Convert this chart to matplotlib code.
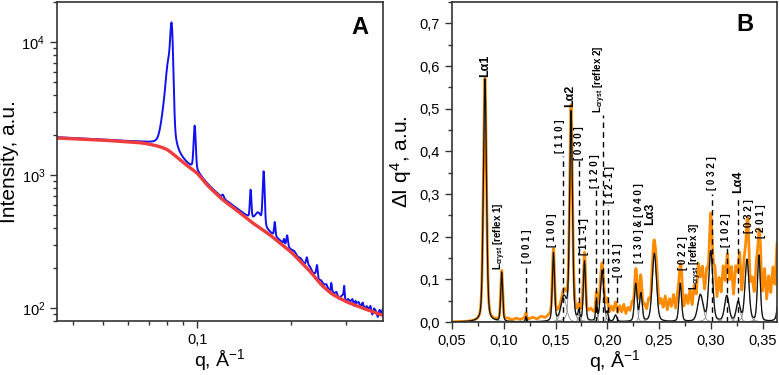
import numpy as np
import matplotlib
matplotlib.use("Agg")
import matplotlib.pyplot as plt
from matplotlib.ticker import MultipleLocator, FixedLocator, FuncFormatter, LogLocator, NullFormatter

plt.rcParams['font.family'] = ['Liberation Sans', 'DejaVu Sans']
plt.rcParams['mathtext.fontset'] = 'custom'
plt.rcParams['mathtext.rm'] = 'Liberation Sans'
plt.rcParams['mathtext.it'] = 'Liberation Sans:italic'
plt.rcParams['mathtext.bf'] = 'Liberation Sans:bold'

# ---- panel A : scattering curve (log-log) ----
# red background curve
bg_q = [0.0355, 0.050, 0.066, 0.070, 0.075, 0.080, 0.085, 0.090, 0.095, 0.100,
        0.105, 0.110, 0.120, 0.130, 0.150, 0.170, 0.200, 0.230, 0.250, 0.270,
        0.300, 0.340, 0.395]
bg_i = [1900, 1830, 1750, 1710, 1650, 1565, 1400, 1250, 1130, 1040,
        900, 800, 660, 575, 440, 360, 265, 190, 150, 128,
        112, 100, 88]

# blue peaks above background: position, added intensity, fwhm
pkA_q = [0.0828, 0.0808, 0.0785, 0.0982, 0.121, 0.1485, 0.157, 0.1635, 0.1775,
         0.190, 0.1945, 0.225, 0.2425, 0.2695, 0.2965, 0.322, 0.345]
pkA_h = [11000, 4500, 1200, 1250, 40, 300, 90, 650, 95, 25, 60, 30, 40, 18, 25, 8, 6]
pkA_w = [0.0019, 0.003, 0.004, 0.0016, 0.002, 0.0018, 0.008, 0.0025, 0.002,
         0.0015, 0.0025, 0.003, 0.003, 0.002, 0.002, 0.002, 0.002]

# relative wiggle of the blue curve around the background
ripA_q = [0.0355, 0.06, 0.1, 0.15] + [round(0.2 + 0.005 * k, 3) for k in range(40)]
ripA_v = [0.012, 0.006, 0.01, 0.04,
          0.04, 0.07, 0.03, 0.06, 0.02, 0.05, 0.08, 0.03, 0.06, 0.02,
          0.07, 0.04, 0.09, 0.01, 0.06, 0.03, 0.08, -0.02, 0.05, 0.10,
          0.00, 0.06, 0.03, 0.09, -0.03, 0.05, 0.08, 0.01, 0.10, -0.04,
          0.06, 0.02, 0.09, -0.05, 0.07, 0.03, -0.06, 0.08, 0.02, 0.12]

# ---- panel B : peak decomposition ----
# fitted components: position, height, fwhm
pkB_q = [0.0818, 0.098, 0.1215, 0.148, 0.158, 0.165, 0.1725, 0.178, 0.1895,
         0.195, 0.200, 0.208, 0.2275, 0.2325, 0.2455, 0.2705, 0.290, 0.300,
         0.3155, 0.3265, 0.335, 0.3465, 0.367]
pkB_h = [0.57, 0.115, 0.012, 0.16, 0.055, 0.49, 0.02, 0.14, 0.045,
         0.12, 0.02, 0.015, 0.088, 0.065, 0.16, 0.09, 0.062, 0.165,
         0.06, 0.045, 0.145, 0.155, 0.14]
pkB_w = [0.0035, 0.0022, 0.0015, 0.0025, 0.0065, 0.0032, 0.002, 0.0025, 0.0018,
         0.0038, 0.002, 0.003, 0.003, 0.003, 0.0048, 0.003, 0.006, 0.0045,
         0.005, 0.0045, 0.0045, 0.0032, 0.004]

# orange data minus fit (residual level), sampled along q
resB_q = ([0.05, 0.075] + [round(0.100 + 0.004 * k, 3) for k in range(26)]
          + [round(0.202 + 0.002 * k, 3) for k in range(82)])
resB_v = [0.0, 0.0,
          0.004, 0.007, 0.004, 0.008, 0.005, 0.009, 0.006, 0.010, 0.006, 0.012,
          0.008, 0.014, 0.009, 0.016, 0.010, 0.018, 0.011, 0.022, 0.013, 0.024,
          0.015, 0.028, 0.016, 0.026, 0.014, 0.030,
          0.018, 0.034, 0.020, 0.030, 0.016, 0.036, 0.022, 0.040, 0.018, 0.032,
          0.024, 0.042, 0.020, 0.038, 0.026, 0.046, 0.018, 0.036, 0.024, 0.044,
          0.020, 0.040, 0.028, 0.050, 0.022, 0.048, 0.030, 0.058, 0.026, 0.052,
          0.034, 0.062, 0.028, 0.056, 0.036, 0.066, 0.030, 0.060, 0.040, 0.072,
          0.036, 0.078, 0.044, 0.090, 0.040, 0.082, 0.050, 0.095, 0.046, 0.088,
          0.058, 0.105, 0.050, 0.098, 0.062, 0.112, 0.048, 0.100, 0.066, 0.118,
          0.055, 0.108, 0.070, 0.125, 0.052, 0.098, 0.064, 0.115, 0.050, 0.092,
          0.060, 0.110, 0.045, 0.095, 0.058, 0.120, 0.050, 0.105, 0.065, 0.125,
          0.080, 0.150]

# dashed index lines: position, top
dash_q = [0.1215, 0.157, 0.1725, 0.1895, 0.1955, 0.2005, 0.209, 0.301, 0.3155, 0.3265]
dash_top = [0.135, 0.39, 0.38, 0.31, 0.485, 0.275, 0.105, 0.30, 0.175, 0.295]

# rotated labels: position, bottom, text, font size
lab_q = [0.0818, 0.0965, 0.122, 0.1465, 0.154, 0.164, 0.173, 0.178, 0.188,
         0.193, 0.2025, 0.210, 0.231, 0.241, 0.273, 0.286, 0.301, 0.315,
         0.326, 0.337, 0.349]
lab_y = [0.575, 0.122, 0.138, 0.176, 0.396, 0.503, 0.38, 0.157, 0.314,
         0.49, 0.279, 0.105, 0.138, 0.227, 0.122, 0.075, 0.309, 0.176,
         0.302, 0.208, 0.197]
lab_txt = ['Lα1', r'L$_{\mathbf{cryst}}$ [reflex 1]', '[ 0 0 1 ]', '[ 1 0 0 ]',
           '[ 1 1 0 ]', 'Lα2', '[ 0 3 0 ]', '[ 1 1 -1 ]', '[ 1 2 0 ]',
           r'L$_{\mathbf{cryst}}$ [reflex 2]', '[ 1 2 -1 ]', '[ 0 3 1 ]',
           '[ 1 3 0 ] & [ 0 4 0 ]', 'Lα3', '[ 0 2 2 ]',
           r'L$_{\mathbf{cryst}}$ [reflex 3]', '[ 0 3 2 ]', '[ 1 0 2 ]', 'Lα4',
           '[ 0 3 2 ]', '[ 2 0 1 ]']
lab_size = [9, 7, 7, 7, 7, 9, 7, 7, 7, 7, 7, 7, 7, 9, 7, 7, 7, 7, 9, 7, 7]


def lorentz(x, x0, h, w):
    return h / (1 + ((x - x0) / (w / 2)) ** 2)


def pvoigt(x, x0, h, w, eta=0.3):
    g = np.exp(-4 * np.log(2) * ((x - x0) / w) ** 2)
    return h * (eta * lorentz(x, x0, 1, w) + (1 - eta) * g)


fig = plt.figure(figsize=(7.79, 3.75), dpi=100)
axA = fig.add_axes([57 / 779, 54 / 375, 326 / 779, 319 / 375])
axB = fig.add_axes([452 / 779, 53 / 375, 325 / 779, 320 / 375])

# panel A
qa = np.geomspace(0.0355, 0.395, 4000)
logbg = np.interp(np.log10(qa), np.log10(bg_q), np.log10(bg_i))
k = 81
pad = np.concatenate([np.full(k, logbg[0]), logbg, np.full(k, logbg[-1])])
logbg = np.convolve(pad, np.ones(k) / k, mode='same')[k:-k]
bg = 10 ** logbg
blue = bg * (1 + np.interp(qa, ripA_q, ripA_v))
for q0, h, w in zip(pkA_q, pkA_h, pkA_w):
    blue += pvoigt(qa, q0, h, w)
axA.plot(qa, blue, color='#1010f0', lw=1.4)
axA.plot(qa, bg, color='#f03c3c', lw=2.4)
axA.set_xscale('log')
axA.set_yscale('log')
axA.set_xlim(0.0355, 0.395)
axA.set_ylim(80, 20000)
axA.xaxis.set_major_locator(FixedLocator([0.1]))
axA.xaxis.set_major_formatter(FuncFormatter(lambda v, p: '0,1'))
axA.xaxis.set_minor_locator(FixedLocator([0.04, 0.05, 0.06, 0.07, 0.08, 0.09, 0.2, 0.3]))
axA.xaxis.set_minor_formatter(NullFormatter())
axA.yaxis.set_major_locator(LogLocator(base=10))
axA.yaxis.set_minor_locator(LogLocator(base=10, subs=np.arange(2, 10)))
axA.yaxis.set_minor_formatter(NullFormatter())
axA.set_xlabel('q, Å$^{-1}$', fontsize=14, labelpad=0)
axA.set_ylabel('Intensity, a.u.', fontsize=15, labelpad=2)
axA.text(0.93, 0.92, 'A', transform=axA.transAxes, fontsize=17,
         fontweight='bold', ha='center', va='center')

# panel B
qb = np.linspace(0.05, 0.364, 6000)
fit = np.zeros_like(qb)
for q0, h, w in zip(pkB_q, pkB_h, pkB_w):
    fit += pvoigt(qb, q0, h, w)
orange = fit + np.interp(qb, resB_q, resB_v)
axB.plot(qb, orange, color='#ff8c00', lw=2.0)
for q0, h, w in zip(pkB_q, pkB_h, pkB_w):
    axB.plot(qb, pvoigt(qb, q0, h, w), color='#8a8a8a', lw=0.6)
axB.plot(qb, fit, color='#111111', lw=0.9)
for q0, top in zip(dash_q, dash_top):
    axB.plot([q0, q0], [0, top], color='black', lw=1.0, ls=(0, (4, 3)))
for q0, y0, t, s in zip(lab_q, lab_y, lab_txt, lab_size):
    axB.text(q0, y0, t, rotation=90, ha='center', va='bottom',
             fontsize=s, fontweight='bold')
axB.set_xlim(0.05, 0.364)
axB.set_ylim(0, 0.75)
axB.xaxis.set_major_locator(MultipleLocator(0.05))
axB.xaxis.set_minor_locator(MultipleLocator(0.025))
axB.yaxis.set_major_locator(MultipleLocator(0.1))
axB.yaxis.set_minor_locator(MultipleLocator(0.05))
axB.xaxis.set_major_formatter(FuncFormatter(lambda v, p: f'{v:.2f}'.replace('.', ',')))
axB.yaxis.set_major_formatter(FuncFormatter(lambda v, p: f'{v:.1f}'.replace('.', ',')))
axB.set_xlabel('q, Å$^{-1}$', fontsize=14, labelpad=0)
axB.set_ylabel('ΔI q$^{4}$, a.u.', fontsize=15, labelpad=4)
axB.text(0.90, 0.93, 'B', transform=axB.transAxes, fontsize=17,
         fontweight='bold', ha='center', va='center')

for ax in (axA, axB):
    ax.tick_params(which='both', direction='out', top=False, right=False,
                   labelsize=10.5, color='#333333')
    ax.tick_params(which='major', length=5, width=1)
    ax.tick_params(which='minor', length=3, width=1)
    for sp in ax.spines.values():
        sp.set_linewidth(1.2)
        sp.set_color('#333333')

fig.savefig('out.png', dpi=100)
